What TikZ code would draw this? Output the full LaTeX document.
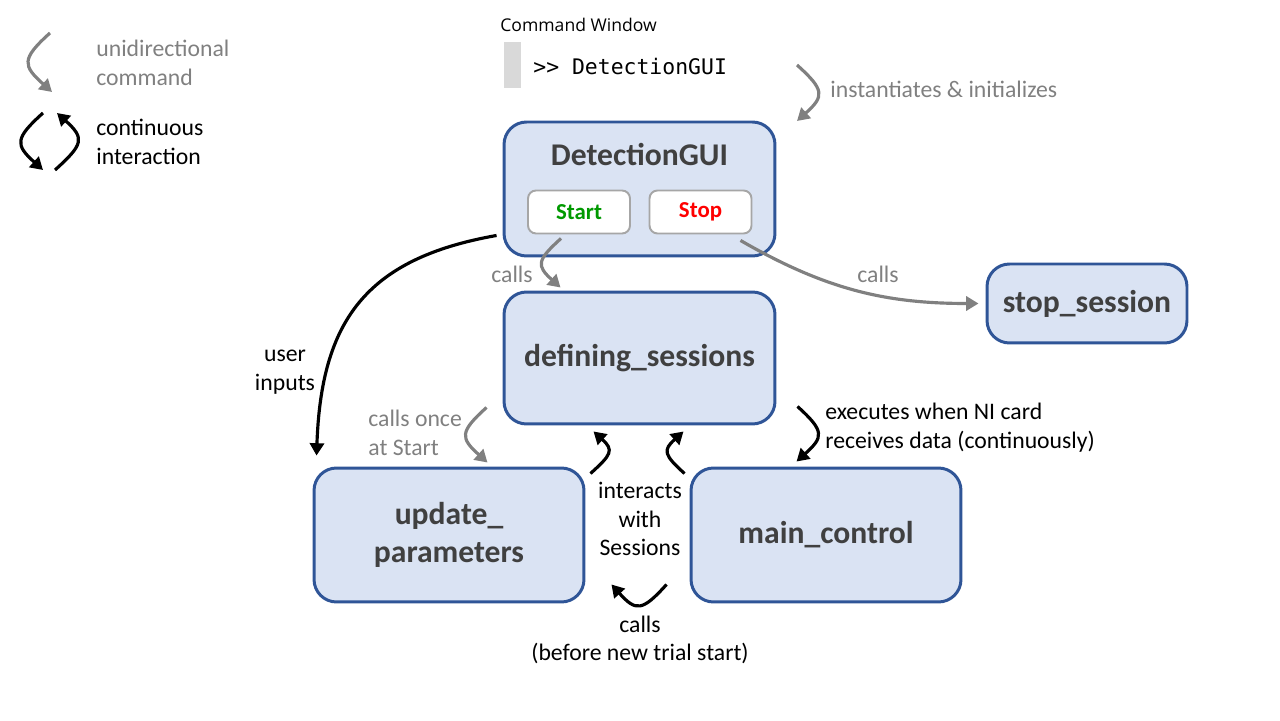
\documentclass[tikz,border=0pt]{standalone}
\usepackage{xcolor}
\usepackage{tikz}
\usepackage{fontspec}
\setmainfont{Carlito}
\setmonofont{DejaVu Sans Mono}
\newfontfamily\winfont{Open Sans}
\usetikzlibrary{arrows.meta, positioning}
\definecolor{boxfill}{HTML}{DAE3F3}
\definecolor{boxline}{HTML}{2F5597}
\definecolor{titlegray}{HTML}{404040}
\definecolor{callgray}{HTML}{808080}
\definecolor{bargray}{HTML}{D9D9D9}
\definecolor{btnline}{HTML}{A6A6A6}
\definecolor{startgreen}{HTML}{009900}

\begin{document}
\begin{tikzpicture}[x=0.02cm,y=0.02cm]
        \useasboundingbox (0,0) rectangle (1280,720);
        % function boxes
        \begin{scope}[every node/.style={draw=boxline,fill=boxfill,line width=1.7pt,rounded corners=0.45cm,text=titlegray,font=\fontsize{18}{22}\selectfont\bfseries,align=center}]
          \node[minimum width=5.42cm,minimum height=2.68cm] (gui) at (639.5,531) {};
          \node[minimum width=5.42cm,minimum height=2.64cm] (defs) at (639.5,362) {defining\_sessions};
          \node[minimum width=4.0cm,minimum height=1.58cm] (stopses) at (1087,416.5) {stop\_session};
          \node[minimum width=5.4cm,minimum height=2.68cm] (upd) at (449,185) {update\_\\parameters};
          \node[minimum width=5.4cm,minimum height=2.68cm] (mainc) at (826,185) {main\_control};
        \end{scope}
        \node[text=titlegray,font=\fontsize{18}{22}\selectfont\bfseries] (guititle) at (639.5,565) {DetectionGUI};
        % buttons
        \begin{scope}[every node/.style={draw=btnline,fill=white,line width=1.1pt,rounded corners=0.16cm,minimum width=2.04cm,minimum height=0.86cm,font=\fontsize{13}{15}\selectfont\bfseries}]
          \node[text=startgreen] (start) at (579,508) {Start};
          \node[text=red] (stop) at (700.5,508) {Stop};
        \end{scope}
        % command window
        \node[fill=bargray,minimum width=0.34cm,minimum height=0.92cm,inner sep=0pt] (cmdbar) at (512.5,655) {};
        \node[anchor=west,inner sep=0pt,font=\ttfamily\fontsize{12.2}{14}\selectfont] (cmd) at (533,653) {>{}> DetectionGUI};
        \node[anchor=west,inner sep=0pt,font=\winfont\fontsize{10}{12}\selectfont] (cmdwin) at (500,695) {Command Window};
        % labels
        \begin{scope}[every node/.style={inner sep=0pt,font=\fontsize{13.5}{16.4}\selectfont,text=callgray}]
          \node[anchor=west] (lblinst) at (830,631) {instantiates \& initializes};
          \node (lblcalla) at (512,446) {calls};
          \node (lblcallb) at (878,446) {calls};
          \node[anchor=west,align=left] (lblonce) at (368,287) {calls once\\at Start};
          \node[anchor=west,align=left] (lbluni) at (96,657.5) {unidirectional\\command};
        \end{scope}
        \begin{scope}[every node/.style={inner sep=0pt,font=\fontsize{13.5}{16.4}\selectfont,text=black}]
          \node[align=center] (lbluser) at (285,348) {user\\inputs};
          \node[align=center] (lblinter) at (640,201) {interacts\\with\\Sessions};
          \node[anchor=west,align=left] (lblexec) at (825,292) {executes when NI card\\receives data (continuously)};
          \node[align=center] (lblbefore) at (640,80) {calls\\(before new trial start)};
          \node[anchor=west,align=left] (lblcont) at (96,578) {continuous\\interaction};
        \end{scope}
        % free ends
        \coordinate (insttop) at (797,655);
        \coordinate (instbot) at (797,599);
        \coordinate (unitop) at (50,687);
        \coordinate (unibot) at (52,628);
        \coordinate (conta) at (43,607);
        \coordinate (contb) at (43,550);
        \coordinate (contc) at (55,550);
        \coordinate (contd) at (57,607);
        % grey commands
        \begin{scope}[every edge/.style={draw=callgray,line width=1.8pt,-{Triangle[length=7pt,width=8pt]}}]
          \path (insttop) edge[out=-42,in=42,looseness=1.7] (instbot);
          \path ([xshift=-0.36cm,yshift=-0.08cm]start.south) edge[out=-138,in=138,looseness=1.7] ([xshift=1.16cm,yshift=0.06cm]defs.north west);
          \path ([xshift=0.8cm,yshift=-0.12cm]stop.south) edge[out=-30,in=180,shorten >=4pt] (stopses.west);
          \path ([xshift=-0.32cm,yshift=0.36cm]defs.south west) edge[out=-138,in=138,looseness=1.7] ([xshift=3.5cm,yshift=0.08cm]upd.north west);
          \path (unitop) edge[out=-138,in=138,looseness=1.7] (unibot);
        \end{scope}
        % black interactions
        \begin{scope}[every edge/.style={draw=black,line width=1.8pt,-{Triangle[length=7pt,width=8pt]}}]
          \path ([xshift=-0.12cm,yshift=0.44cm]gui.south west) edge[out=190,in=88,looseness=1.2] ([xshift=0.08cm,yshift=0.22cm]upd.north west);
          \path ([xshift=0.1cm,yshift=-0.14cm]upd.north east) edge[out=42,in=-42,looseness=1.7] ([xshift=-0.92cm,yshift=-0.12cm]defs.south);
          \path ([xshift=-0.1cm,yshift=-0.14cm]mainc.north west) edge[out=138,in=-138,looseness=1.7] ([xshift=0.88cm,yshift=-0.12cm]defs.south);
          \path ([xshift=0.42cm,yshift=0.38cm]defs.south east) edge[out=-42,in=42,looseness=1.7] ([xshift=2.14cm,yshift=0.1cm]mainc.north west);
          \path ([xshift=-0.46cm,yshift=0.38cm]mainc.south west) edge[out=-132,in=-48,looseness=1.7] ([xshift=0.52cm,yshift=0.38cm]upd.south east);
          \path (conta) edge[out=-138,in=138,looseness=1.7] (contb);
          \path (contc) edge[out=42,in=-42,looseness=1.7] (contd);
        \end{scope}
      \end{tikzpicture}
\end{document}
